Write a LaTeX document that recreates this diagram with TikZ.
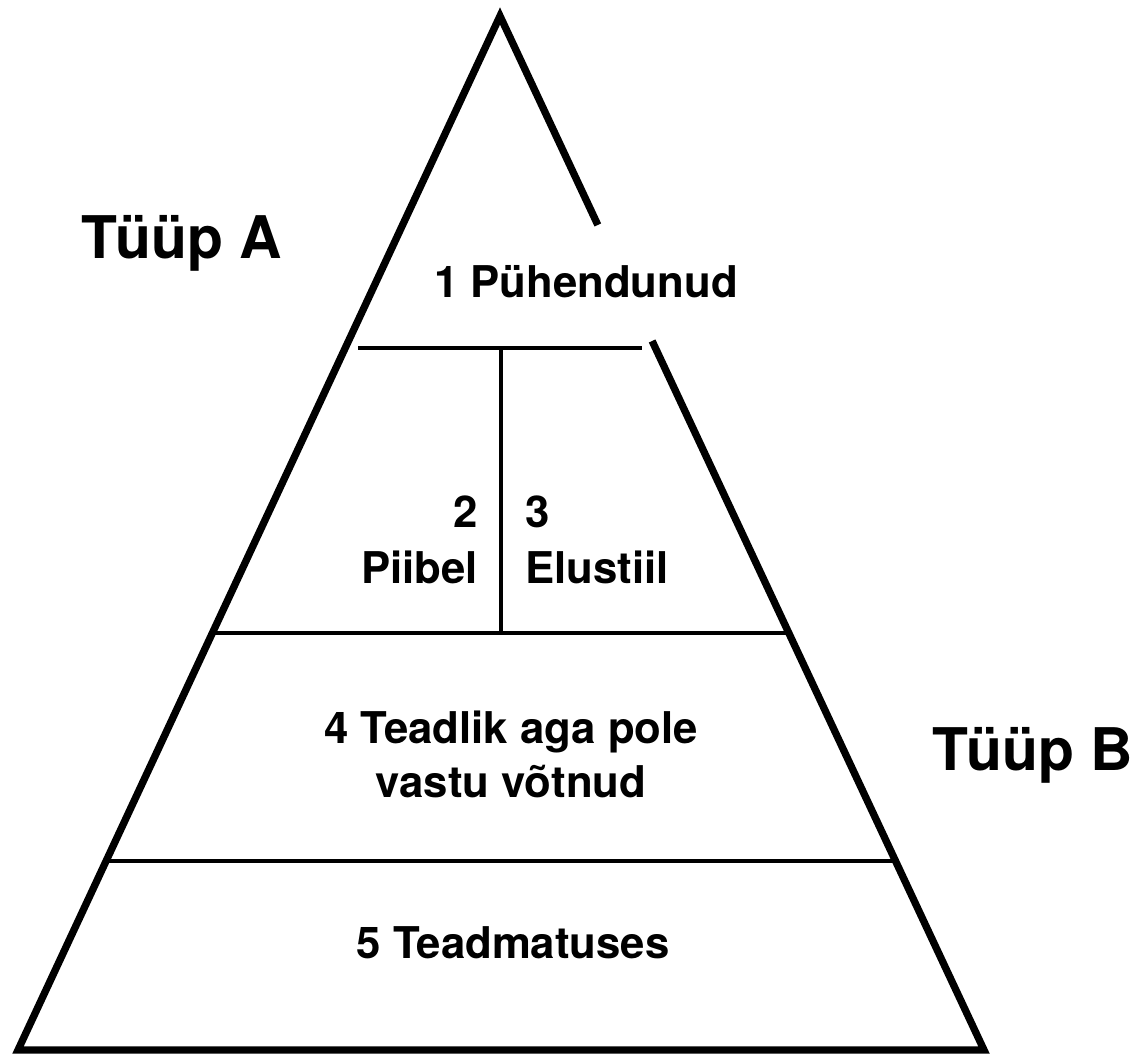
\documentclass[tikz,border=0pt]{standalone}
\usepackage{fontspec}
\setmainfont{TeX Gyre Heros}
\usetikzlibrary{calc}

\tikzset{
  side/.style={line width=5.2pt, line join=miter},
  divider/.style={line width=2.4pt},
  lbl/.style={font=\fontsize{31.1}{37}\selectfont\bfseries, inner sep=0pt},
  typ/.style={font=\fontsize{41.8}{49}\selectfont\bfseries, inner sep=0pt}
}

\begin{document}
\begin{tikzpicture}[x=0.025cm, y=-0.025cm]
      \useasboundingbox (0,0) rectangle (1144,1057);
      % corners of the pyramid
      \coordinate (T) at (500,16);
      \coordinate (L) at (18,1050);
      \coordinate (R) at (984,1050);
      \coordinate (G1) at ($(T)!0.2021!(R)$);
      \coordinate (G2) at ($(T)!0.3143!(R)$);
      % dividers
      \coordinate (A1) at (358,348);
      \coordinate (A2) at (642,348);
      \coordinate (V1) at (501,348);
      \coordinate (V2) at (501,633);
      \coordinate (B1) at ($(T)!0.5967!(L)$);
      \coordinate (B2) at ($(T)!0.5967!(R)$);
      \coordinate (C1) at ($(T)!0.8172!(L)$);
      \coordinate (C2) at ($(T)!0.8172!(R)$);
      \draw[side] (G1) -- (T) -- (L) -- (R) -- (G2);
      \draw[divider] (A1) -- (A2);
      \draw[divider] (V1) -- (V2);
      \draw[divider] (B1) -- (B2);
      \draw[divider] (C1) -- (C2);
        % labels
      \node[typ, anchor=base] (tA) at (182,258) {Tüüp A};
      \node[typ, anchor=base] (tB) at (1033,770) {Tüüp B};
      \node[lbl, anchor=base] (n1) at (586,297) {1 Pühendunud};
      \node[lbl, anchor=base east] (n2) at (478,527) {2};
      \node[lbl, anchor=base east] (n2b) at (478,583) {Piibel};
      \node[lbl, anchor=base west] (n3) at (525,527) {3};
      \node[lbl, anchor=base west] (n3b) at (525,583) {Elustiil};
      \node[lbl, anchor=base] (n4) at (511,743) {4 Teadlik aga pole};
      \node[lbl, anchor=base] (n4b) at (511,797) {vastu võtnud};
      \node[lbl, anchor=base] (n5) at (513,958) {5 Teadmatuses};
    \end{tikzpicture}
\end{document}
